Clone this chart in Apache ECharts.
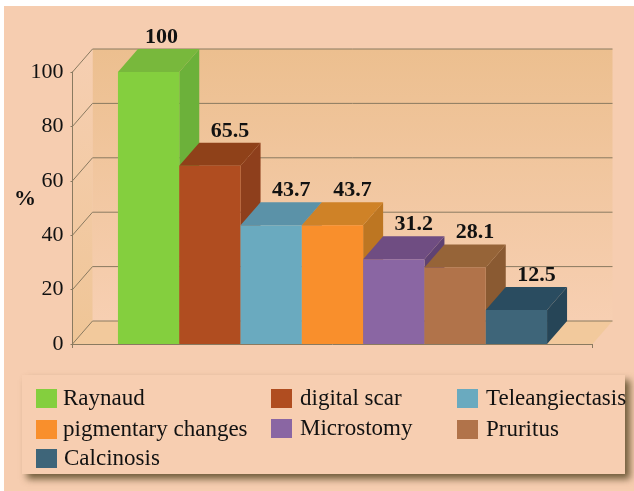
<!DOCTYPE html>
<html>
<head>
<meta charset="utf-8">
<style>
  html, body { margin: 0; background: #fff; }
  #main { width: 634px; height: 491px; }
</style>
<script src="https://cdn.jsdelivr.net/npm/echarts@6/dist/echarts.min.js"></script>
</head>
<body>
<div id="main"></div>
<script>
const names = ["Raynaud", "digital scar", "Teleangiectasis", "pigmentary changes", "Microstomy", "Pruritus", "Calcinosis"];
const values = [100, 65.5, 43.7, 43.7, 31.2, 28.1, 12.5];
const yTicks = [0, 20, 40, 60, 80, 100];

const frontColors = ["#84cf3e", "#b04d20", "#6aaabf", "#f98f2c", "#8a66a3", "#b1734a", "#3e6579"];
const topColors = ["#78b83c", "#8f4119", "#5b92a8", "#cf8227", "#6f4d82", "#966438", "#2a4c60"];
const sideColors = ["#6cb13a", "#8e3f1c", "#4f8095", "#bd7622", "#5f4272", "#8a5a32", "#264557"];

// [left, top, text nudge] of every legend entry, three uneven columns like the original
const legendSpots = [[36, 387, 1], [271, 387, 3], [457, 387, 3], [36, 418, 1], [271, 417, 3], [457, 418, 3], [36, 447, 2]];

const depthX = 20;
const depthY = 23;
const barWidth = 61.3;
const serif = "Liberation Serif";
const line = "#8a7a60";

function renderWalls(params, api) {
  const p = api.coord([0, api.value(1)]);
  const span = api.size([1, 0])[0];
  const x0 = p[0] - span / 2;
  const x1 = p[0] + span / 2;
  const children = [];
  if (params.dataIndex === 0) {
    const base = p[1];
    const top = api.coord([0, 100])[1];
    children.push({
      type: "rect",
      shape: { x: x0 + depthX, y: top - depthY, width: span, height: base - top },
      style: {
        fill: new echarts.graphic.LinearGradient(0, 0, 0, 1, [
          { offset: 0, color: "#ecbf8f" },
          { offset: 1, color: "#f7cfb2" },
        ]),
      },
    });
    children.push({
      type: "polygon",
      shape: { points: [[x0, top], [x0 + depthX, top - depthY], [x0 + depthX, base - depthY], [x0, base]] },
      style: {
        fill: new echarts.graphic.LinearGradient(0, 0, 0, 1, [
          { offset: 0, color: "#f6cfb2" },
          { offset: 1, color: "#efc596" },
        ]),
      },
    });
    children.push({
      type: "polygon",
      shape: { points: [[x0, base], [x0 + depthX, base - depthY], [x1 + depthX, base - depthY], [x1, base]] },
      style: { fill: "#f2c99c" },
    });
  }
  children.push({
    type: "polyline",
    shape: { points: [[x0, p[1]], [x0 + depthX, p[1] - depthY], [x1 + depthX, p[1] - depthY]] },
    style: { fill: null, stroke: line, lineWidth: 1 },
  });
  return { type: "group", children: children };
}

function renderBar(i) {
  return function (params, api) {
    const band = api.coord([0, 0]);
    const layout = api.barLayout({ count: names.length, barWidth: barWidth, barGap: "0%" })[i];
    const x = band[0] + layout.offset;
    const w = layout.width;
    const base = band[1];
    const top = api.coord([0, api.value(1)])[1];
    return {
      type: "group",
      children: [
        {
          type: "polygon",
          shape: { points: [[x + w, top], [x + w + depthX, top - depthY], [x + w + depthX, base - depthY], [x + w, base]] },
          style: { fill: sideColors[i] },
        },
        {
          type: "polygon",
          shape: { points: [[x, top], [x + depthX, top - depthY], [x + w + depthX, top - depthY], [x + w, top]] },
          style: { fill: topColors[i] },
        },
        {
          type: "rect",
          shape: { x: x, y: top, width: w, height: base - top },
          style: { fill: frontColors[i] },
        },
        {
          type: "text",
          style: {
            text: String(values[i]),
            x: x + w / 2 + (values[i] === 100 ? 13 : 20),
            y: top - depthY - 1,
            align: "center",
            verticalAlign: "bottom",
            font: "bold 22px '" + serif + "'",
            fill: "#111",
          },
        },
      ],
    };
  };
}

const myChart = echarts.init(document.getElementById("main"));

const series = [
  {
    type: "custom",
    name: "walls",
    silent: true,
    z: 1,
    data: yTicks.map((t) => [0, t]),
    renderItem: renderWalls,
  },
];
names.forEach((name, i) => {
  series.push({
    type: "custom",
    name: name,
    silent: true,
    z: 2,
    itemStyle: { color: frontColors[i] },
    data: [[0, values[i]]],
    renderItem: renderBar(i),
  });
});

const option = {
  animation: false,
  backgroundColor: "#fff",
  title: {
    text: "%",
    left: 14,
    top: 188,
    padding: 0,
    textStyle: { fontFamily: serif, fontSize: 22, fontWeight: "bold", color: "#111" },
  },
  graphic: [
    {
      type: "rect",
      z: -2,
      shape: { x: 4, y: 6, width: 630, height: 485 },
      style: { fill: "#f6cdb0" },
    },
    {
      type: "rect",
      z: -1,
      shape: { x: 22, y: 375, width: 603, height: 99 },
      style: {
        fill: "#f7ceb1",
        shadowColor: "rgba(80,65,30,0.8)",
        shadowBlur: 7,
        shadowOffsetX: 5,
        shadowOffsetY: 5,
      },
    },
  ],
  grid: { left: 72.5, width: 520, top: 72, height: 272 },
  xAxis: {
    type: "category",
    data: [""],
    z: 5,
    axisLine: { lineStyle: { color: line } },
    axisTick: { show: true, length: 4, lineStyle: { color: line } },
    axisLabel: { show: false },
  },
  yAxis: {
    type: "value",
    min: 0,
    max: 100,
    interval: 20,
    z: 5,
    splitLine: { show: false },
    axisLine: { show: true, lineStyle: { color: line } },
    axisTick: { show: true, length: 2, lineStyle: { color: line } },
    axisLabel: { margin: 9, fontFamily: serif, fontSize: 22, color: "#111" },
  },
  legend: names.map((name, i) => ({
    data: [name],
    left: legendSpots[i][0],
    top: legendSpots[i][1],
    padding: 0,
    icon: "rect",
    itemWidth: 21,
    itemHeight: 19,
    selectedMode: false,
    textStyle: {
      fontFamily: serif,
      fontSize: 23,
      color: "#111",
      lineHeight: 19,
      padding: [0, 0, 0, legendSpots[i][2]],
    },
  })),
  series: series,
};
myChart.setOption(option);
</script>
</body>
</html>
